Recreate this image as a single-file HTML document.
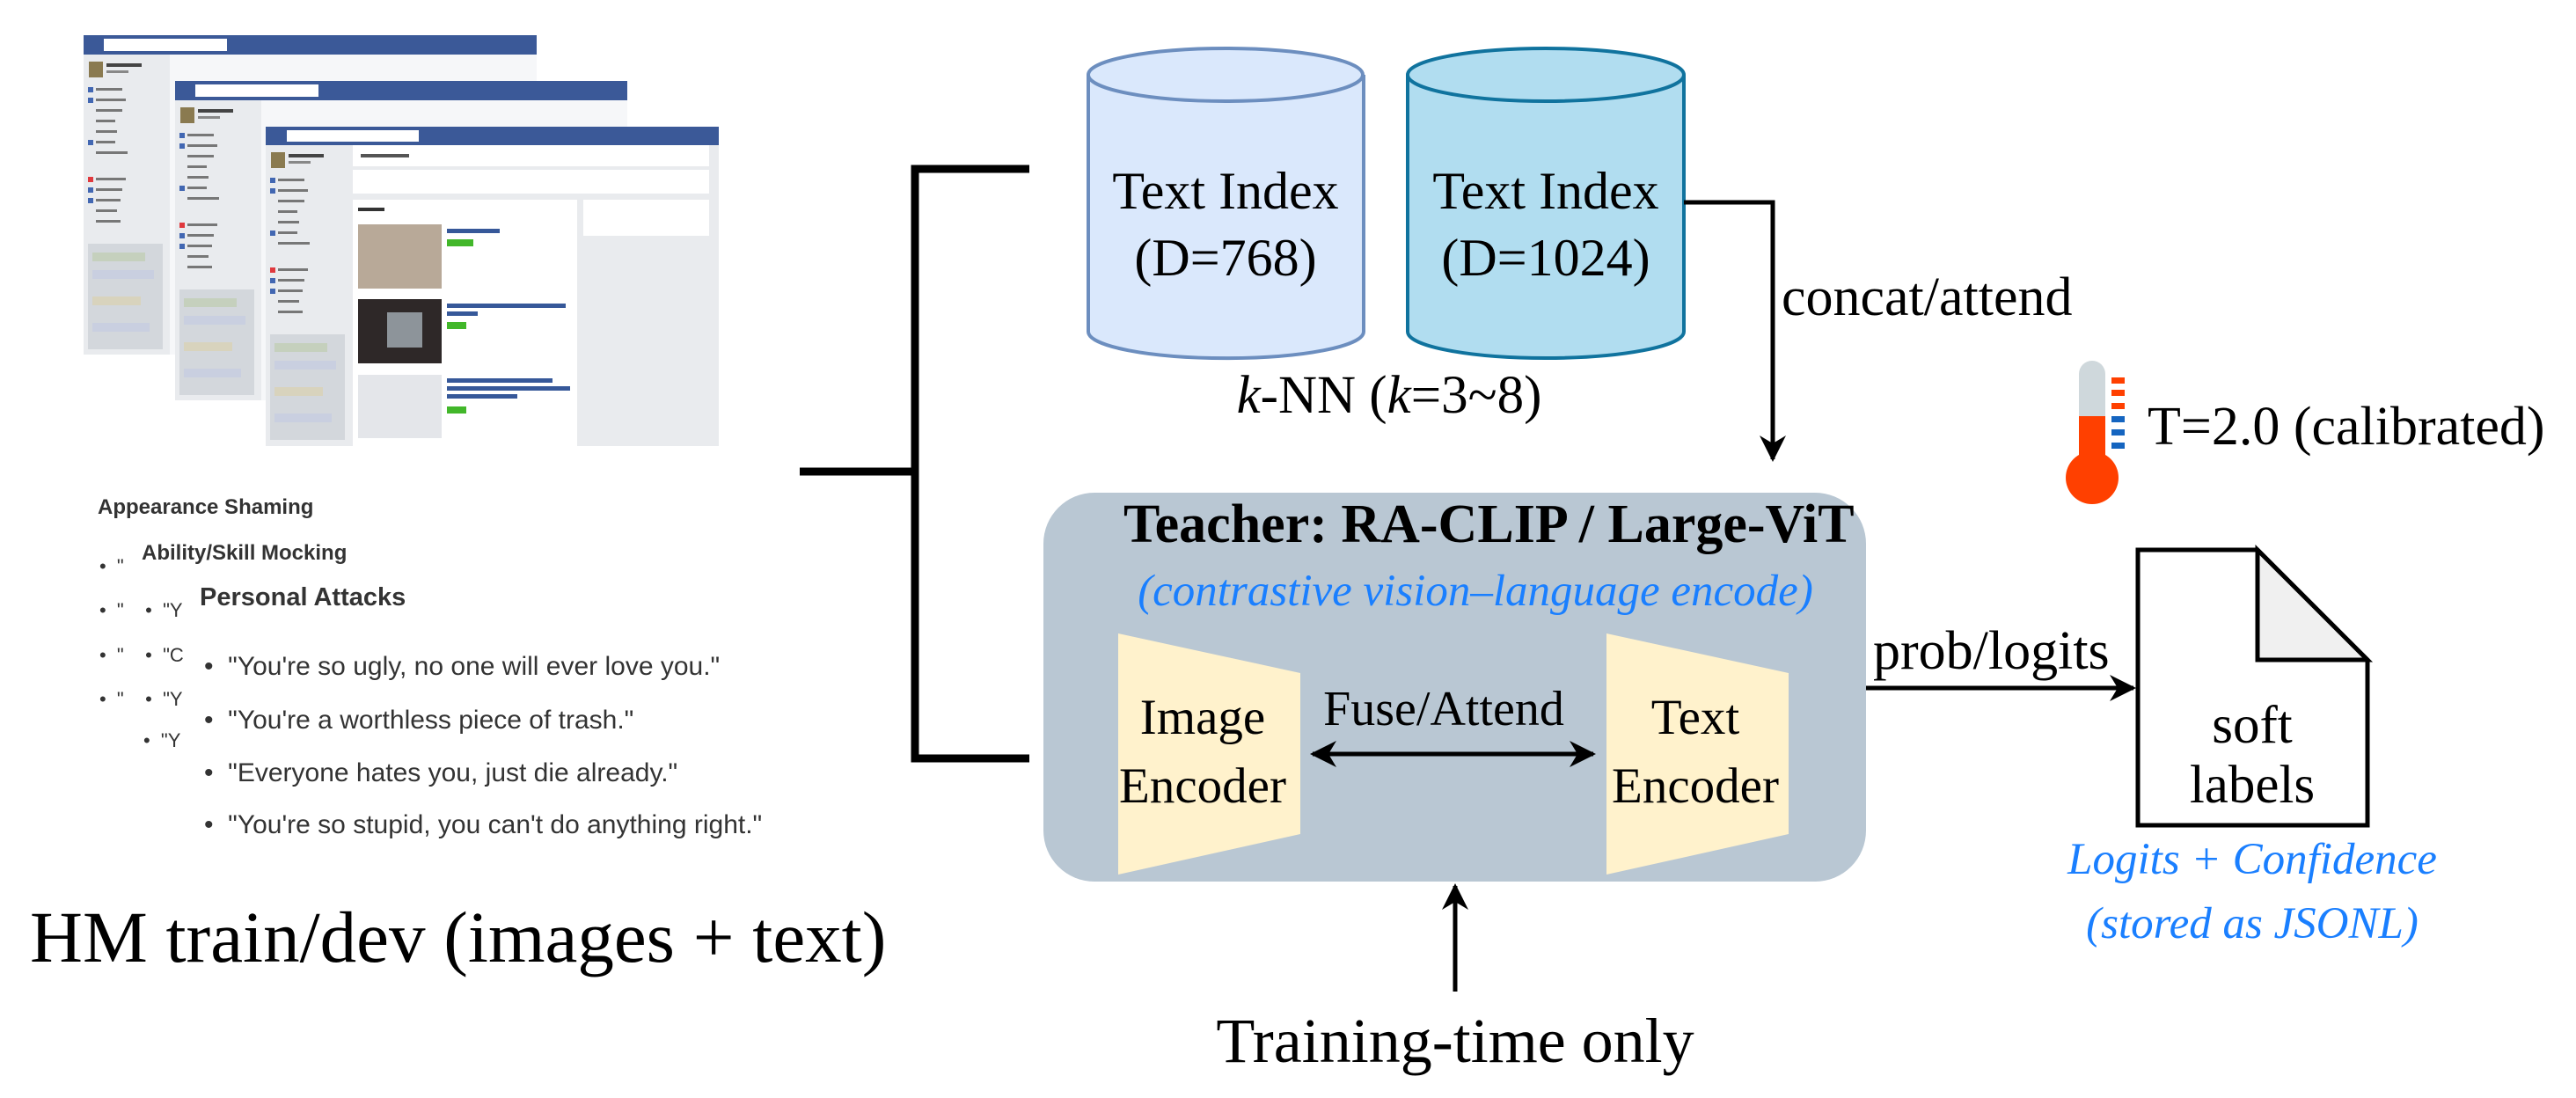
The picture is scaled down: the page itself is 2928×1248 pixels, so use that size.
<!DOCTYPE html>
<html><head><meta charset="utf-8"><style>
html,body{margin:0;padding:0;background:#fff;}
body{width:2928px;height:1248px;position:relative;overflow:hidden;}
.t{position:absolute;white-space:nowrap;}
.serif{font-family:"Liberation Serif",serif;color:#000;}
.sans{font-family:"Liberation Sans",sans-serif;color:#333;}
.c{text-align:center;}
</style></head><body>
<svg width="2928" height="1248" style="position:absolute;left:0;top:0" xmlns="http://www.w3.org/2000/svg">
<defs>
<marker id="ah" viewBox="0 0 10 10" refX="9" refY="5" markerWidth="6" markerHeight="6" orient="auto-start-reverse" markerUnits="strokeWidth"><path d="M0,0 L10,5 L0,10 L3,5 z" fill="#000"/></marker>
<g id="side">
 <rect x="0" y="0" width="98" height="341" fill="#e9ebee"/>
 <rect x="6" y="8" width="16" height="18" fill="#8a7a50"/>
 <rect x="26" y="10" width="40" height="4" fill="#444"/>
 <rect x="26" y="18" width="25" height="3" fill="#888"/>
 <g fill="#777"><rect x="14" y="38" width="30" height="3"/><rect x="14" y="50" width="34" height="3"/><rect x="14" y="62" width="30" height="3"/><rect x="14" y="74" width="22" height="3"/><rect x="14" y="86" width="24" height="3"/><rect x="14" y="98" width="22" height="3"/><rect x="14" y="110" width="36" height="3"/>
 <rect x="14" y="140" width="34" height="3"/><rect x="14" y="152" width="30" height="3"/><rect x="14" y="164" width="28" height="3"/><rect x="14" y="176" width="24" height="3"/><rect x="14" y="188" width="28" height="3"/></g>
 <g fill="#4267b2"><rect x="5" y="37" width="6" height="6"/><rect x="5" y="49" width="6" height="6"/><rect x="5" y="97" width="6" height="6"/><rect x="5" y="151" width="6" height="6"/><rect x="5" y="163" width="6" height="6"/></g>
 <g fill="#e0393e"><rect x="5" y="139" width="6" height="6"/></g>
 <rect x="5" y="215" width="85" height="120" fill="#d3d7dc"/>
 <rect x="10" y="225" width="60" height="10" fill="#c5d0bd"/><rect x="10" y="245" width="70" height="10" fill="#c9cfe0"/><rect x="10" y="275" width="55" height="10" fill="#d8d3bd"/><rect x="10" y="305" width="65" height="10" fill="#c9cfe0"/>
</g>
</defs>
<!-- screenshot 1 -->
<rect x="95" y="40" width="515" height="363" fill="#f6f7f9"/>
<use href="#side" x="95" y="62"/>
<rect x="95" y="40" width="515" height="22" fill="#3b5998"/>
<rect x="118" y="44" width="140" height="14" fill="#fff"/>
<!-- screenshot 2 -->
<rect x="199" y="92" width="514" height="363" fill="#f6f7f9"/>
<use href="#side" x="199" y="114"/>
<rect x="199" y="92" width="514" height="22" fill="#3b5998"/>
<rect x="222" y="96" width="140" height="14" fill="#fff"/>
<!-- screenshot 3 -->
<rect x="302" y="144" width="515" height="363" fill="#e9ebee"/>
<use href="#side" x="302" y="165"/>
<rect x="302" y="144" width="515" height="21" fill="#3b5998"/>
<rect x="326" y="148" width="150" height="13" fill="#fff"/>
<rect x="401" y="165" width="405" height="24" fill="#fff"/>
<rect x="410" y="175" width="55" height="4" fill="#555"/>
<rect x="401" y="193" width="405" height="27" fill="#fff"/>
<rect x="401" y="227" width="255" height="280" fill="#fff"/>
<rect x="407" y="236" width="30" height="4" fill="#333"/>
<rect x="663" y="227" width="143" height="41" fill="#fff"/>
<rect x="407" y="255" width="95" height="73" fill="#b8a998"/>
<rect x="407" y="340" width="95" height="73" fill="#2e2828"/>
<rect x="440" y="355" width="40" height="40" fill="#8d949a"/>
<rect x="407" y="426" width="95" height="72" fill="#e4e6ea"/>
<g fill="#365899"><rect x="508" y="260" width="60" height="5"/><rect x="508" y="345" width="135" height="5"/><rect x="508" y="354" width="35" height="5"/><rect x="508" y="430" width="120" height="5"/><rect x="508" y="439" width="140" height="5"/><rect x="508" y="448" width="80" height="5"/></g>
<g fill="#42b72a"><rect x="508" y="272" width="30" height="8"/><rect x="508" y="366" width="22" height="8"/><rect x="508" y="462" width="22" height="8"/></g>
<!-- bracket -->
<g stroke="#000" stroke-width="9" fill="none">
 <polyline points="1170,192 1040,192 1040,862 1170,862"/>
 <line x1="909" y1="536" x2="1040" y2="536"/>
</g>
<!-- cylinders -->
<g stroke-width="4">
 <path d="M1237,85 L1237,377 A156,30 0 0 0 1550,377 L1550,85" fill="#dae8fc" stroke="#6c8ebf"/>
 <ellipse cx="1393" cy="85" rx="156" ry="30" fill="#dae8fc" stroke="#6c8ebf"/>
 <path d="M1600,85 L1600,377 A157,30 0 0 0 1914,377 L1914,85" fill="#b1ddf0" stroke="#10739e"/>
 <ellipse cx="1757" cy="85" rx="157" ry="30" fill="#b1ddf0" stroke="#10739e"/>
</g>
<polyline points="1914,230 2015,230 2015,522" stroke="#000" stroke-width="5" fill="none" marker-end="url(#ah)"/>
<!-- teacher box -->
<rect x="1186" y="560" width="935" height="442" rx="58" fill="#b9c7d3"/>
<polygon points="1271,720 1478,765 1478,948 1271,994" fill="#fff2cc"/>
<polygon points="1826,720 2033,765 2033,948 1826,994" fill="#fff2cc"/>
<line x1="1492" y1="857" x2="1811" y2="857" stroke="#000" stroke-width="5" marker-start="url(#ah)" marker-end="url(#ah)"/>
<line x1="2121" y1="782" x2="2425" y2="782" stroke="#000" stroke-width="5" marker-end="url(#ah)"/>
<line x1="1654" y1="1127" x2="1654" y2="1007" stroke="#000" stroke-width="5" marker-end="url(#ah)"/>
<!-- document -->
<path d="M2430,625 L2566,625 L2691,750 L2691,938 L2430,938 Z" fill="#fff" stroke="#000" stroke-width="5"/>
<path d="M2566,625 L2566,750 L2691,750 Z" fill="#f0f0f0" stroke="#000" stroke-width="5"/>
<!-- thermometer -->
<rect x="2363" y="410" width="30" height="100" rx="15" fill="#cfd8dc"/>
<rect x="2363" y="473" width="30" height="60" fill="#ff4000"/>
<circle cx="2378" cy="543" r="30" fill="#ff4000"/>
<g fill="#ff4000"><rect x="2400" y="429" width="15" height="7"/><rect x="2400" y="443" width="15" height="7"/><rect x="2400" y="458" width="15" height="7"/></g>
<g fill="#1565c0"><rect x="2400" y="473" width="15" height="7"/><rect x="2400" y="488" width="15" height="7"/><rect x="2400" y="503" width="15" height="7"/></g>
</svg>

<!-- text list -->
<div class="t sans" style="left:111px;top:562px;font-size:24px;line-height:30px;font-weight:bold;">Appearance Shaming</div>
<div class="t sans" style="left:161px;top:614px;font-size:24px;line-height:30px;font-weight:bold;">Ability/Skill Mocking</div>
<div class="t sans" style="left:227px;top:662px;font-size:29px;line-height:34px;font-weight:bold;">Personal Attacks</div>
<div class="t sans" style="left:113px;top:632px;font-size:22px;line-height:24px;">•&nbsp;&nbsp;"</div>
<div class="t sans" style="left:113px;top:682px;font-size:22px;line-height:24px;">•&nbsp;&nbsp;"&nbsp;&nbsp;&nbsp;&nbsp;•&nbsp;&nbsp;"Y</div>
<div class="t sans" style="left:113px;top:733px;font-size:22px;line-height:24px;">•&nbsp;&nbsp;"&nbsp;&nbsp;&nbsp;&nbsp;•&nbsp;&nbsp;"C</div>
<div class="t sans" style="left:113px;top:783px;font-size:22px;line-height:24px;">•&nbsp;&nbsp;"&nbsp;&nbsp;&nbsp;&nbsp;•&nbsp;&nbsp;"Y</div>
<div class="t sans" style="left:163px;top:830px;font-size:22px;line-height:24px;">•&nbsp;&nbsp;"Y</div>
<div class="t sans" style="left:232px;top:740px;font-size:30px;line-height:36px;">•&nbsp;&nbsp;"You're so ugly, no one will ever love you."</div>
<div class="t sans" style="left:232px;top:801px;font-size:30px;line-height:36px;">•&nbsp;&nbsp;"You're a worthless piece of trash."</div>
<div class="t sans" style="left:232px;top:861px;font-size:30px;line-height:36px;">•&nbsp;&nbsp;"Everyone hates you, just die already."</div>
<div class="t sans" style="left:232px;top:920px;font-size:30px;line-height:36px;">•&nbsp;&nbsp;"You're so stupid, you can't do anything right."</div>
<div class="t serif" style="left:34px;top:1015px;font-size:83px;line-height:100px;">HM train/dev (images + text)</div>

<!-- cylinder labels -->
<div class="t serif c" style="left:1193px;width:400px;top:179px;font-size:60px;line-height:76px;">Text Index<br>(D=768)</div>
<div class="t serif c" style="left:1557px;width:400px;top:179px;font-size:60px;line-height:76px;">Text Index<br>(D=1024)</div>
<div class="t serif c" style="left:1379px;width:400px;top:415px;font-size:61px;line-height:70px;"><i>k</i>-NN (<i>k</i>=3~8)</div>
<div class="t serif" style="left:2025px;top:303px;font-size:62px;line-height:70px;">concat/attend</div>
<div class="t serif" style="left:2441px;top:450px;font-size:62px;line-height:70px;">T=2.0 (calibrated)</div>

<!-- teacher -->
<div class="t serif c" style="left:1277px;width:800px;top:561px;font-size:62px;line-height:70px;font-weight:bold;">Teacher: RA-CLIP / Large-ViT</div>
<div class="t serif c" style="left:1277px;width:800px;top:640px;font-size:51px;line-height:64px;font-style:italic;color:#1a7fff;">(contrastive vision–language encode)</div>
<div class="t serif c" style="left:1247px;width:240px;top:777px;font-size:57px;line-height:78px;">Image<br>Encoder</div>
<div class="t serif c" style="left:1807px;width:240px;top:777px;font-size:57px;line-height:78px;">Text<br>Encoder</div>
<div class="t serif c" style="left:1491px;width:300px;top:774px;font-size:56px;line-height:64px;">Fuse/Attend</div>
<div class="t serif" style="left:2129px;top:705px;font-size:62px;line-height:70px;">prob/logits</div>
<div class="t serif c" style="left:2440px;width:240px;top:791px;font-size:61px;line-height:68px;">soft<br>labels</div>
<div class="t serif c" style="left:2310px;width:500px;top:941px;font-size:51px;line-height:73px;font-style:italic;color:#1a7fff;">Logits + Confidence<br>(stored as JSONL)</div>
<div class="t serif c" style="left:1354px;width:600px;top:1143px;font-size:72px;line-height:80px;">Training-time only</div>
</body></html>
